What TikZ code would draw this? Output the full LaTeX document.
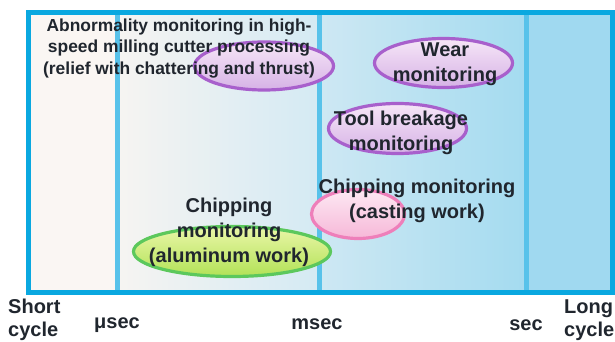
\documentclass[tikz,border=0pt]{standalone}
\usepackage{fontspec}
\setmainfont{Liberation Sans}
\usetikzlibrary{shapes.geometric}

\definecolor{ink}{HTML}{20262E}
\definecolor{frameblue}{HTML}{0AA8E0}
\definecolor{divblue}{HTML}{58C2EA}
\definecolor{violetline}{HTML}{A860CC}
\definecolor{violettop}{HTML}{F6E6F7}
\definecolor{violetbot}{HTML}{D6B2E6}
\definecolor{pinkline}{HTML}{EE7FBA}
\definecolor{pinktop}{HTML}{FDE8F3}
\definecolor{pinkbot}{HTML}{F6B8D8}
\definecolor{greenline}{HTML}{5CC85C}
\definecolor{greentop}{HTML}{EAF6A8}
\definecolor{greenbot}{HTML}{B2E257}

\tikzset{
  lbl/.style={font=\bfseries\fontsize{20}{25}\selectfont, text=ink, align=center, inner sep=0pt},
  smalllbl/.style={font=\bfseries\fontsize{17.4}{21.2}\selectfont, text=ink, align=center, inner sep=0pt},
  axislbl/.style={font=\bfseries\fontsize{20}{23}\selectfont, text=ink, inner sep=0pt},
  oval/.style={ellipse, line width=3.2pt, inner sep=0pt},
  violetoval/.style={oval, draw=violetline, top color=violettop, bottom color=violetbot},
  pinkoval/.style={oval, draw=pinkline, top color=pinktop, bottom color=pinkbot},
  greenoval/.style={oval, draw=greenline, top color=greentop, bottom color=greenbot},
  divider/.style={line width=5pt, draw=divblue},
}

\begin{document}
\begin{tikzpicture}[x=1pt,y=-1pt]
\useasboundingbox (0,0) rectangle (615,342);

% time bands
\fill[color={rgb,255:red,250;green,246;blue,243}] (28.5,12.5) rectangle (117.5,292.5);
\shade[left color={rgb,255:red,246;green,244;blue,242}, right color={rgb,255:red,212;green,234;blue,243}] (117.5,12.5) rectangle (319,292.5);
\shade[left color={rgb,255:red,206;green,232;blue,243}, right color={rgb,255:red,164;green,219;blue,240}] (319,12.5) rectangle (526,292.5);
\fill[color={rgb,255:red,160;green,217;blue,240}] (526,12.5) rectangle (612.5,292.5);

% band borders
\coordinate (d1t) at (117.5,12.5); \coordinate (d1b) at (117.5,292.5);
\coordinate (d2t) at (319,12.5);   \coordinate (d2b) at (319,292.5);
\coordinate (d3t) at (526,12.5);   \coordinate (d3b) at (526,292.5);
\draw[divider] (d1t) -- (d1b);
\draw[divider] (d2t) -- (d2b);
\draw[divider] (d3t) -- (d3b);
\draw[line width=5pt, draw=frameblue] (28.5,12.5) rectangle (612.5,292.5);

% monitoring ranges
\node[violetoval, minimum width=139pt, minimum height=48pt] (ovAbn) at (264,66) {};
\node[violetoval, minimum width=138pt, minimum height=49pt] (ovWear) at (443.5,63) {};
\node[violetoval, minimum width=138pt, minimum height=50pt] (ovTool) at (397.5,128.5) {};
\node[pinkoval, minimum width=93pt, minimum height=49pt] (ovCast) at (358,214) {};
\node[greenoval, minimum width=197pt, minimum height=50pt] (ovAlu) at (232,251.5) {};

% labels
\node[smalllbl] (tAbn) at (179,48.5) {Abnormality monitoring in high-\\speed milling cutter processing\\(relief with chattering and thrust)};
\node[lbl] (tWear) at (445,64.5) {Wear\\monitoring};
\node[lbl] (tTool) at (401,132.4) {Tool breakage\\monitoring};
\node[lbl] (tCast) at (417,200.9) {Chipping monitoring\\(casting work)};
\node[lbl] (tAlu) at (229,232.4) {Chipping\\monitoring\\(aluminum work)};

% time axis
\node[axislbl, align=left, anchor=west] (tShort) at (8,320) {Short\\cycle};
\node[axislbl, anchor=base] (tUs) at (117,328) {μsec};
\node[axislbl, anchor=base] (tMs) at (317,329) {msec};
\node[axislbl, anchor=base] (tS) at (526,330) {sec};
\node[axislbl, align=left, anchor=west] (tLong) at (564,320) {Long\\cycle};
\end{tikzpicture}
\end{document}
